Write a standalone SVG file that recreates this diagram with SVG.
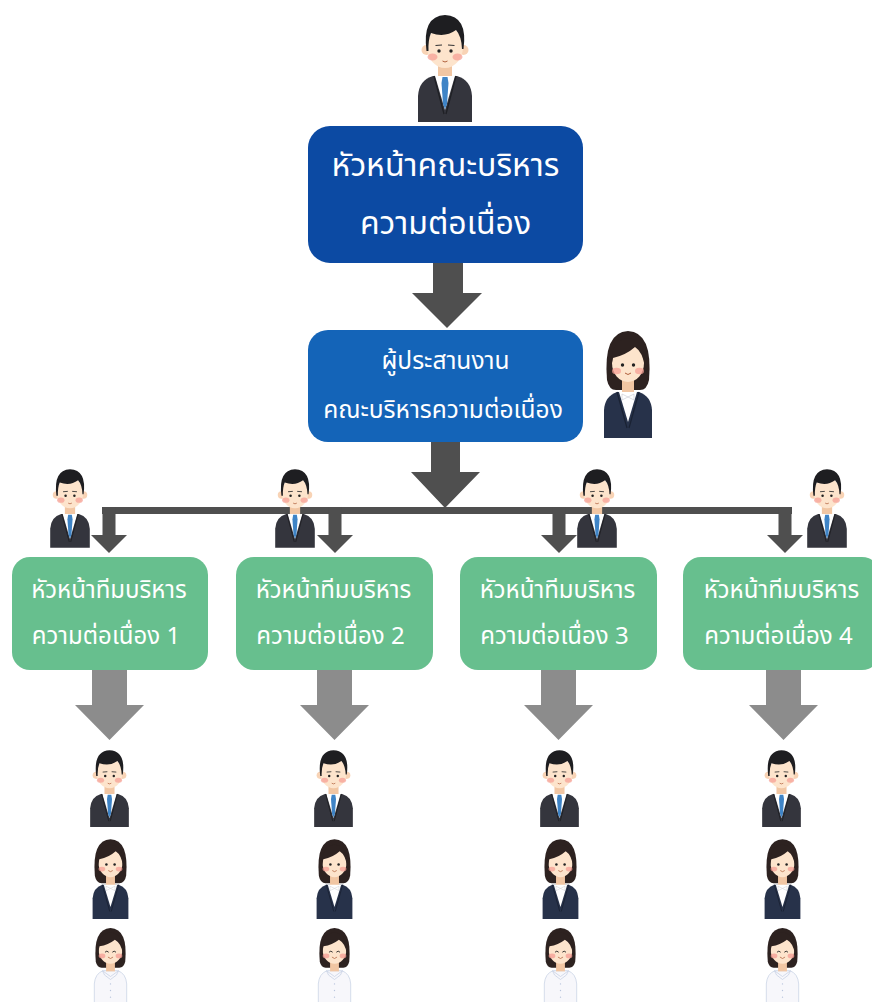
<svg xmlns="http://www.w3.org/2000/svg" xmlns:xlink="http://www.w3.org/1999/xlink" width="872" height="1002" viewBox="0 0 872 1002">
  <style>
    .lbl { font-family: "Noto Sans Thai", "Noto Sans", "DejaVu Sans", sans-serif; fill: #ffffff; text-anchor: middle; }
    .big { font-size: 32px; }
    .mid { font-size: 24.5px; }
    .sm { font-size: 24px; }
    .dark { fill: #4f4f4f; }
    .grey { fill: #8c8c8c; }
  </style>
  <defs>
    <!-- man in a dark suit with blue tie -->
    <symbol id="man" viewBox="0 0 60 110">
      <path d="M3,110 L3,84 Q4,68 18,64 L42,64 Q56,68 57,84 L57,110 Z" fill="#34353d"/>
      <rect x="23" y="50" width="14" height="16" fill="#f1c6a3"/>
      <path d="M20,64 L30,98 L40,64 Z" fill="#ffffff"/>
      <path d="M27.5,65 L32.5,65 L33.5,71 L32,92 L30,97 L28,92 L26.5,71 Z" fill="#3f84c6"/>
      <path d="M19,64 L29,102 M41,64 L31,102" stroke="#1f2025" stroke-width="1.3" fill="none"/>
      <circle cx="11.5" cy="38" r="5" fill="#f8d3b5"/>
      <circle cx="48.5" cy="38" r="5" fill="#f8d3b5"/>
      <ellipse cx="30" cy="35" rx="18" ry="21" fill="#fde4cc"/>
      <ellipse cx="17.5" cy="45" rx="5" ry="3.5" fill="#f5a096" opacity="0.75"/>
      <ellipse cx="42.5" cy="45" rx="5" ry="3.5" fill="#f5a096" opacity="0.75"/>
      <circle cx="24" cy="39" r="1.7" fill="#222"/>
      <circle cx="36" cy="39" r="1.7" fill="#222"/>
      <path d="M20.5,33.5 L27,33 M33,33 L39.5,33.5" stroke="#333" stroke-width="1.2" fill="none"/>
      <path d="M27.5,49 Q30,51 32.5,49" stroke="#b0603c" stroke-width="1" fill="none"/>
      <path d="M11.5,39 Q7,4 30,3 Q53,4 48.5,37 L47,37 Q46.5,24 41,18 Q30,26 16,21 Q13,28 13.5,39 Z" fill="#1e1e21"/>
    </symbol>
    <!-- woman in a navy suit with white blouse -->
    <symbol id="woman" viewBox="0 0 52 110">
      <path d="M5,52 Q1,4 26,3 Q51,4 47,52 Q45,62 38,62 L14,62 Q7,62 5,52 Z" fill="#2d2220"/>
      <path d="M2,110 L2,82 Q3,68 15,64 L37,64 Q49,68 50,82 L50,110 Z" fill="#27324a"/>
      <rect x="20" y="48" width="12" height="17" fill="#f1c6a3"/>
      <path d="M17,64 L26,94 L35,64 Z" fill="#ffffff"/>
      <path d="M20,66 L26,69 L32,66 L32,72 L26,69 L20,72 Z" fill="#ffffff" stroke="#c8c8d0" stroke-width="0.6"/>
      <path d="M15,64 L25,100 M37,64 L27,100" stroke="#1a2233" stroke-width="1.2" fill="none"/>
      <ellipse cx="26" cy="35" rx="16" ry="19" fill="#fde4cc"/>
      <ellipse cx="14.5" cy="43" rx="4.5" ry="3.2" fill="#f5a096" opacity="0.75"/>
      <ellipse cx="37.5" cy="43" rx="4.5" ry="3.2" fill="#f5a096" opacity="0.75"/>
      <circle cx="20.5" cy="37" r="1.7" fill="#222"/>
      <circle cx="31.5" cy="37" r="1.7" fill="#222"/>
      <path d="M23,45 Q26,48 29,45" stroke="#b0603c" stroke-width="1" fill="none"/>
      <path d="M9,40 Q8,12 26,10 Q44,12 43,40 Q41,24 33,19 Q24,27 11,30 Z" fill="#2d2220"/>
    </symbol>
    <!-- nurse in a white uniform -->
    <symbol id="nurse" viewBox="0 0 50 110">
      <path d="M5,50 Q1,5 25,4 Q49,5 45,50 Q43,58 37,58 L13,58 Q7,58 5,50 Z" fill="#2d2220"/>
      <path d="M3,110 L3,80 Q4,66 15,62 L35,62 Q46,66 47,80 L47,110 Z" fill="#f7f7fb" stroke="#c6d0e4" stroke-width="1"/>
      <rect x="19" y="47" width="12" height="16" fill="#f1c6a3"/>
      <path d="M14,62 L25,70 L36,62 L33,68 L25,74 L17,68 Z" fill="#f7f7fb" stroke="#b8c4dc" stroke-width="0.8"/>
      <circle cx="25" cy="80" r="0.9" fill="#b8c4dc"/>
      <circle cx="25" cy="89" r="0.9" fill="#b8c4dc"/>
      <circle cx="25" cy="98" r="0.9" fill="#b8c4dc"/>
      <ellipse cx="25" cy="34" rx="16" ry="18.5" fill="#fde4cc"/>
      <ellipse cx="13.5" cy="42" rx="4.5" ry="3.2" fill="#f5a096" opacity="0.8"/>
      <ellipse cx="36.5" cy="42" rx="4.5" ry="3.2" fill="#f5a096" opacity="0.8"/>
      <path d="M17.5,37 Q20,34 22.5,37 M27.5,37 Q30,34 32.5,37" stroke="#222" stroke-width="1.2" fill="none"/>
      <path d="M21.5,43.5 Q25,47.5 28.5,43.5" stroke="#b0603c" stroke-width="1" fill="none"/>
      <path d="M8,40 Q7,12 25,10 Q43,12 42,40 Q40,25 31,20 Q22,27 10,29 Z" fill="#2d2220"/>
    </symbol>
  </defs>

  <rect width="872" height="1002" fill="#ffffff"/>

  <!-- connectors -->
  <g id="connectors">
    <polygon class="dark" points="433,262 463,262 463,293 482,293 447,328 412,293 433,293"/>
    <polygon class="dark" points="431,441 460,441 460,472 480,472 445,508 411,472 431,472"/>
    <rect class="dark" x="102" y="507" width="690" height="7"/>
    <polygon class="dark" points="102.5,507 115.5,507 115.5,535 127,535 109,553 91,535 102.5,535"/>
    <polygon class="dark" points="328.5,507 341.5,507 341.5,535 353,535 335,553 317,535 328.5,535"/>
    <polygon class="dark" points="552.5,507 565.5,507 565.5,535 577,535 559,553 541,535 552.5,535"/>
    <polygon class="dark" points="778.5,507 791.5,507 791.5,535 803,535 785,553 767,535 778.5,535"/>
    <polygon class="grey" points="92,669 127,669 127,705 144,705 109.5,740 75,705 92,705"/>
    <polygon class="grey" points="317,669 352,669 352,705 369,705 334.5,740 300,705 317,705"/>
    <polygon class="grey" points="541,669 576,669 576,705 593,705 558.5,740 524,705 541,705"/>
    <polygon class="grey" points="766,669 801,669 801,705 818,705 783.5,740 749,705 766,705"/>
  </g>

  <!-- board head -->
  <g id="board-head">
    <rect x="308" y="126" width="275" height="137" rx="22" fill="#0c4aa3"/>
    <text class="lbl big" x="445.5" y="176">หัวหน้าคณะบริหาร</text>
    <text class="lbl big" x="445.5" y="234">ความต่อเนื่อง</text>
    <use xlink:href="#man" x="415" y="12" width="60" height="110"/>
  </g>

  <!-- coordinator -->
  <g id="coordinator">
    <rect x="308" y="330" width="275" height="112" rx="20" fill="#1464b8"/>
    <text class="lbl mid" x="445.5" y="369">ผู้ประสานงาน</text>
    <text class="lbl mid" x="443" y="418">คณะบริหารความต่อเนื่อง</text>
    <use xlink:href="#woman" x="602" y="328" width="52" height="110"/>
  </g>

  <!-- team heads -->
  <g id="team-1">
    <rect x="12" y="557" width="196" height="113" rx="18" fill="#67bf8e"/>
    <text class="lbl sm" x="109" y="598">หัวหน้าทีมบริหาร</text>
    <text class="lbl sm" x="106" y="644">ความต่อเนื่อง 1</text>
    <use xlink:href="#man" x="48" y="467" width="44" height="81"/>
  </g>
  <g id="team-2">
    <rect x="236" y="557" width="197" height="113" rx="18" fill="#67bf8e"/>
    <text class="lbl sm" x="333.5" y="598">หัวหน้าทีมบริหาร</text>
    <text class="lbl sm" x="330.5" y="644">ความต่อเนื่อง 2</text>
    <use xlink:href="#man" x="273" y="467" width="44" height="81"/>
  </g>
  <g id="team-3">
    <rect x="460" y="557" width="197" height="113" rx="18" fill="#67bf8e"/>
    <text class="lbl sm" x="557.5" y="598">หัวหน้าทีมบริหาร</text>
    <text class="lbl sm" x="554.5" y="644">ความต่อเนื่อง 3</text>
    <use xlink:href="#man" x="575" y="467" width="44" height="81"/>
  </g>
  <g id="team-4">
    <rect x="683" y="557" width="197" height="113" rx="18" fill="#67bf8e"/>
    <text class="lbl sm" x="781.5" y="598">หัวหน้าทีมบริหาร</text>
    <text class="lbl sm" x="778.5" y="644">ความต่อเนื่อง 4</text>
    <use xlink:href="#man" x="805" y="467" width="44" height="81"/>
  </g>

  <!-- team members -->
  <g id="members-1">
    <use xlink:href="#man" x="88" y="748" width="43" height="79"/>
    <use xlink:href="#woman" x="91" y="837" width="39" height="82"/>
    <use xlink:href="#nurse" x="92" y="925" width="37" height="81"/>
  </g>
  <g id="members-2">
    <use xlink:href="#man" x="312" y="748" width="43" height="79"/>
    <use xlink:href="#woman" x="315" y="837" width="39" height="82"/>
    <use xlink:href="#nurse" x="316" y="925" width="37" height="81"/>
  </g>
  <g id="members-3">
    <use xlink:href="#man" x="538" y="748" width="43" height="79"/>
    <use xlink:href="#woman" x="541" y="837" width="39" height="82"/>
    <use xlink:href="#nurse" x="542" y="925" width="37" height="81"/>
  </g>
  <g id="members-4">
    <use xlink:href="#man" x="760" y="748" width="43" height="79"/>
    <use xlink:href="#woman" x="763" y="837" width="39" height="82"/>
    <use xlink:href="#nurse" x="764" y="925" width="37" height="81"/>
  </g>
</svg>
